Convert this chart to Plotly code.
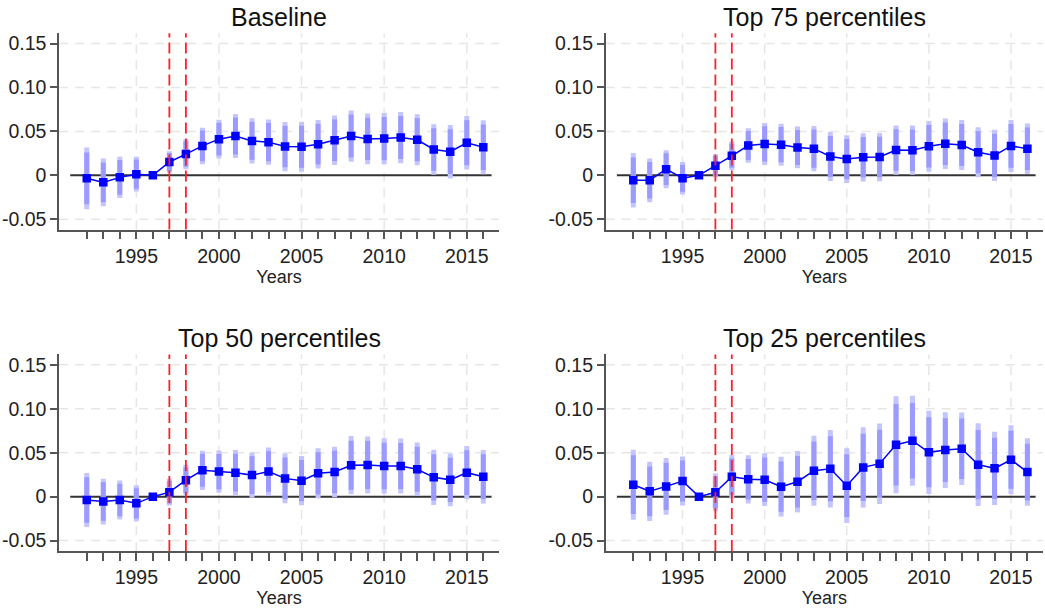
import plotly.graph_objects as go

# Event-study estimates by year, with standard errors
years = list(range(1992, 2017))

baseline_coef = [-0.0034, -0.0080, -0.0023, 0.0013, 0.0, 0.0152, 0.0242, 0.0335, 0.0412, 0.0447,
                 0.0392, 0.0378, 0.0328, 0.0326, 0.0354, 0.0399, 0.0447, 0.0415, 0.0418, 0.0430,
                 0.0405, 0.0294, 0.0269, 0.0371, 0.0320]
baseline_se = [0.0179, 0.0138, 0.0120, 0.0101, 0.0, 0.0063, 0.0088, 0.0106, 0.0113, 0.0128,
               0.0131, 0.0132, 0.0143, 0.0145, 0.0141, 0.0144, 0.0149, 0.0147, 0.0149, 0.0149,
               0.0148, 0.0147, 0.0155, 0.0155, 0.0157]

top75_coef = [-0.0056, -0.0056, 0.0070, -0.0033, 0.0, 0.0108, 0.0222, 0.0339, 0.0358, 0.0349,
              0.0318, 0.0304, 0.0215, 0.0185, 0.0205, 0.0208, 0.0288, 0.0286, 0.0330, 0.0360,
              0.0345, 0.0263, 0.0227, 0.0335, 0.0303]
top75_se = [0.0158, 0.0127, 0.0110, 0.0094, 0.0, 0.0068, 0.0083, 0.0100, 0.0122, 0.0122,
            0.0121, 0.0132, 0.0142, 0.0139, 0.0140, 0.0140, 0.0143, 0.0143, 0.0147, 0.0147,
            0.0145, 0.0145, 0.0149, 0.0151, 0.0147]

top50_coef = [-0.0038, -0.0056, -0.0038, -0.0076, 0.0, 0.0051, 0.0188, 0.0300, 0.0285, 0.0273,
              0.0245, 0.0285, 0.0208, 0.0182, 0.0266, 0.0280, 0.0358, 0.0360, 0.0349, 0.0349,
              0.0312, 0.0220, 0.0191, 0.0273, 0.0227]
top50_se = [0.0157, 0.0133, 0.0113, 0.0105, 0.0, 0.0078, 0.0089, 0.0114, 0.0122, 0.0131,
            0.0131, 0.0140, 0.0145, 0.0143, 0.0146, 0.0147, 0.0169, 0.0166, 0.0161, 0.0159,
            0.0155, 0.0160, 0.0153, 0.0155, 0.0155]

top25_coef = [0.0136, 0.0061, 0.0117, 0.0178, 0.0, 0.0049, 0.0227, 0.0197, 0.0193, 0.0114,
              0.0170, 0.0295, 0.0318, 0.0125, 0.0333, 0.0375, 0.0591, 0.0636, 0.0504, 0.0530,
              0.0545, 0.0364, 0.0322, 0.0420, 0.0280]
top25_se = [0.0203, 0.0172, 0.0164, 0.0142, 0.0, 0.0109, 0.0126, 0.0140, 0.0153, 0.0174,
            0.0178, 0.0203, 0.0225, 0.0217, 0.0233, 0.0234, 0.0282, 0.0261, 0.0242, 0.0220,
            0.0210, 0.0240, 0.0212, 0.0200, 0.0196]

panel_titles = ["Baseline", "Top 75 percentiles", "Top 50 percentiles", "Top 25 percentiles"]
panel_coefs = [baseline_coef, top75_coef, top50_coef, top25_coef]
panel_ses = [baseline_se, top75_se, top50_se, top25_se]

event_years = [1997, 1998]
grid_years = [1995, 2000, 2005, 2010, 2015]
y_tickvals = [-0.05, 0, 0.05, 0.10, 0.15]
y_ticktext = ["-0.05", "0", "0.05", "0.10", "0.15"]
x_tickvals = years
x_ticktext = [str(y) if y % 5 == 0 else "" for y in years]

Z95, Z90 = 1.96, 1.645

W, H = 1045, 609
FONT = "Liberation Sans, Arial, sans-serif"
BLUE = "#0000ff"
CI95_COLOR = "#c4c4ff"
CI90_COLOR = "#9a9aff"
AXIS_COLOR = "#555555"
GRID_COLOR = "#e6e6e6"

# Panel placement in pixels: (left, right, top, bottom)
panel_px = [
    (59, 499, 32.3, 229.3),
    (605.7, 1043, 32.3, 229.3),
    (59, 499, 354.6, 551.7),
    (605.7, 1043, 354.6, 551.7),
]
title_centers_y = [16, 16, 338, 338]

X_RANGE = [1990.32, 2016.95]
Y_RANGE = [-0.0617, 0.1618]
ZERO_SPAN = [1991, 2016.5]


def segments(xs, lo, hi):
    sx, sy = [], []
    for x, a, b in zip(xs, lo, hi):
        sx += [x, x, None]
        sy += [a, b, None]
    return sx, sy


fig = go.Figure()
layout = dict(
    width=W, height=H, margin=dict(l=0, r=0, t=0, b=0),
    paper_bgcolor="white", plot_bgcolor="white", showlegend=False,
    font=dict(family=FONT, color="#222222"),
)
shapes = []
annotations = []

for i, (title, coef, se) in enumerate(zip(panel_titles, panel_coefs, panel_ses)):
    n = i + 1
    xa = "x" if n == 1 else f"x{n}"
    ya = "y" if n == 1 else f"y{n}"
    left, right, top, bottom = panel_px[i]
    xdom = [left / W, right / W]
    ydom = [1 - bottom / H, 1 - top / H]

    layout[f"xaxis{'' if n == 1 else n}"] = dict(
        domain=xdom, anchor=ya, range=X_RANGE, showgrid=False, zeroline=False,
        showline=True, linecolor=AXIS_COLOR, linewidth=1.5,
        tickmode="array", tickvals=x_tickvals, ticktext=x_ticktext,
        ticks="outside", ticklen=8, tickwidth=1.5, tickcolor=AXIS_COLOR,
        tickfont=dict(size=19.5, family=FONT, color="#222222"),
        title=dict(text="Years", font=dict(size=18, family=FONT, color="#222222"), standoff=1),
    )
    layout[f"yaxis{'' if n == 1 else n}"] = dict(
        domain=ydom, anchor=xa, range=Y_RANGE, showgrid=False, zeroline=False,
        showline=True, linecolor=AXIS_COLOR, linewidth=1.5,
        tickmode="array", tickvals=y_tickvals, ticktext=y_ticktext,
        ticks="outside", ticklen=7, tickwidth=1.5, tickcolor=AXIS_COLOR,
        tickfont=dict(size=19.5, family=FONT, color="#222222"),
    )

    # dashed gridlines
    for gy in y_tickvals:
        if gy == 0:
            continue
        shapes.append(dict(type="line", xref=f"{xa} domain", yref=ya, x0=0, x1=1, y0=gy, y1=gy,
                           line=dict(color=GRID_COLOR, width=1.5, dash="9px,7px"), layer="below"))
    for gx in grid_years:
        shapes.append(dict(type="line", xref=xa, yref=f"{ya} domain", x0=gx, x1=gx, y0=0, y1=1,
                           line=dict(color=GRID_COLOR, width=1.5, dash="9px,7px"), layer="below"))
    # zero reference line
    shapes.append(dict(type="line", xref=xa, yref=ya, x0=ZERO_SPAN[0], x1=ZERO_SPAN[1], y0=0, y1=0,
                       line=dict(color="#333333", width=2), layer="below"))
    # policy years
    for ev in event_years:
        shapes.append(dict(type="line", xref=xa, yref=f"{ya} domain", x0=ev, x1=ev, y0=0, y1=1,
                           line=dict(color="#ff2020", width=1.8, dash="11px,5px"), layer="above"))

    annotations.append(dict(text=title, xref="paper", yref="paper",
                            x=(xdom[0] + xdom[1]) / 2, y=1 - title_centers_y[i] / H,
                            xanchor="center", yanchor="middle", showarrow=False,
                            font=dict(size=25, family=FONT, color="#111111")))

    lo95 = [c - Z95 * s for c, s in zip(coef, se)]
    hi95 = [c + Z95 * s for c, s in zip(coef, se)]
    lo90 = [c - Z90 * s for c, s in zip(coef, se)]
    hi90 = [c + Z90 * s for c, s in zip(coef, se)]

    fig.add_trace(go.Scatter(x=years, y=coef, mode="lines", xaxis=xa, yaxis=ya,
                             line=dict(color=BLUE, width=1.5), hoverinfo="skip"))
    sx, sy = segments(years, lo95, hi95)
    fig.add_trace(go.Scatter(x=sx, y=sy, mode="lines", xaxis=xa, yaxis=ya,
                             line=dict(color=CI95_COLOR, width=5), hoverinfo="skip"))
    sx, sy = segments(years, lo90, hi90)
    fig.add_trace(go.Scatter(x=sx, y=sy, mode="lines", xaxis=xa, yaxis=ya,
                             line=dict(color=CI90_COLOR, width=5), hoverinfo="skip"))
    fig.add_trace(go.Scatter(x=years, y=coef, mode="markers", xaxis=xa, yaxis=ya,
                             marker=dict(symbol="square", size=8.5, color=BLUE)))

layout["shapes"] = shapes
layout["annotations"] = annotations
fig.update_layout(**layout)

fig.write_html("out.html")
